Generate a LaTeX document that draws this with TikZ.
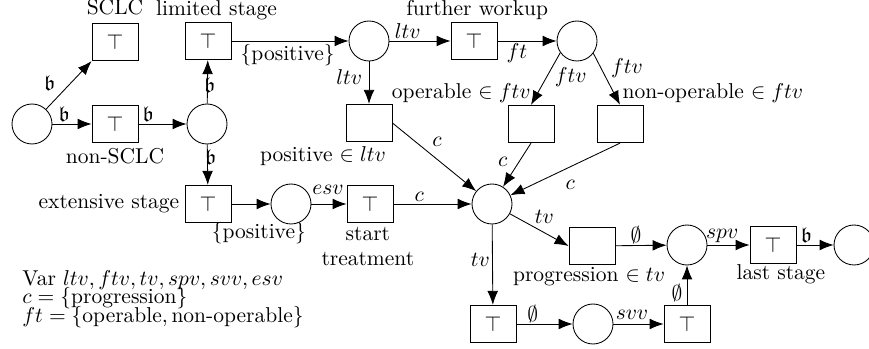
\documentclass[tikz,border=0pt]{standalone}
\usepackage{amsmath,amssymb}
\usetikzlibrary{arrows.meta}
\begin{document}
\begin{tikzpicture}[x=0.4651pt,y=-0.4651pt,
  place/.style={draw,circle,minimum size=18.6pt,inner sep=0pt},
  trans/.style={draw,rectangle,minimum width=21.4pt,minimum height=17.4pt,inner sep=0pt},
  arc/.style={-{Latex[length=6.5pt,width=5pt]}},
  lbl/.style={inner sep=1pt}
]
\useasboundingbox (0,0) rectangle (869,349);

% places and transitions
\node[place] (p0) at (32,124) {};
\node[trans] (sclc) at (115,42) {$\top$};
\node[trans] (nsclc) at (115,124) {$\top$};
\node[place] (p1) at (207,124) {};
\node[trans] (lim) at (208,41) {$\top$};
\node[trans] (ext) at (208,204) {$\top$};
\node[place] (p2) at (369,41) {};
\node[trans] (fw) at (474,41) {$\top$};
\node[place] (p3) at (577,41) {};
\node[trans] (pos) at (369,123) {};
\node[trans] (op) at (531,124) {};
\node[trans] (nop) at (620,124) {};
\node[place] (p4) at (291,204) {};
\node[trans] (st) at (370,204) {$\top$};
\node[place] (p5) at (492,204) {};
\node[trans] (prog) at (592,246) {};
\node[place] (p6) at (687,245) {};
\node[trans] (last) at (773,245) {$\top$};
\node[place] (p7) at (854,245) {};
\node[trans] (bl) at (493,324) {$\top$};
\node[place] (p8) at (593,324) {};
\node[trans] (br) at (687,324) {$\top$};

% node names
\node[anchor=south] (sclcL) at (sclc.north) {SCLC};
\node[anchor=south,inner sep=0.5pt,xshift=4pt] (limL) at (lim.north) {limited stage};
\node[anchor=south,inner sep=0.6pt,xshift=1.5pt] (fwL) at (fw.north) {further workup};
\node[anchor=north,inner sep=2pt] (nsclcL) at (nsclc.south) {non-SCLC};
\node[anchor=east,inner sep=2.3pt] (extL) at (ext.west) {extensive stage};
\node[anchor=north,inner sep=2pt,xshift=-21.4pt] (posL) at (pos.south) {positive $\in ltv$};
\node[anchor=south east,inner sep=1pt,xshift=1pt] (opL) at (op.north) {operable $\in ftv$};
\node[anchor=south west,inner sep=1pt] (nopL) at (nop.north) {non-operable $\in ftv$};
\node[anchor=north,inner sep=1.5pt,align=center,xshift=-1pt] (stL) at (st.south) {start\\treatment};
\node[anchor=north,inner sep=1pt,xshift=-1.4pt] (progL) at (prog.south) {progression $\in tv$};
\node[anchor=north,inner sep=0pt,xshift=3.7pt] (lastL) at (last.south) {last stage};

% arcs
\draw[arc] (p0) -- (sclc.south west) node[lbl,pos=0.54,left=6pt] {$\mathfrak{b}$};
\draw[arc] (p0) -- (nsclc) node[lbl,pos=0.3,above] {$\mathfrak{b}$};
\draw[arc] (nsclc) -- (p1) node[lbl,pos=0.2,above] {$\mathfrak{b}$};
\draw[arc] (p1) -- (lim) node[lbl,pos=0.42,xshift=1pt] {$\mathfrak{b}$};
\draw[arc] (p1) -- (ext) node[lbl,pos=0.31,xshift=1.5pt] {$\mathfrak{b}$};
\draw[arc] (lim) -- (p2) node[pos=0.48,below,inner sep=1.5pt] {\{positive\}};
\draw[arc] (p2) -- (fw) node[lbl,pos=0.3,above] {$ltv$};
\draw[arc] (fw) -- (p3) node[lbl,pos=0.33,below] {$ft$};
\draw[arc] (p2) -- (pos) node[pos=0.37,left,inner sep=3pt] {$ltv$};
\draw[arc] (p3.215) -- (op.north) node[pos=0.46,right,inner sep=3.5pt] {$ftv$};
\draw[arc] (p3.-37) -- (nop.north) node[pos=0.29,right,inner sep=4.5pt] {$ftv$};
\draw[arc] (pos.east) -- (p5) node[pos=0.42,above right,inner sep=2pt] {$c$};
\draw[arc] (op.south) -- (p5) node[pos=0.44,left,inner sep=5pt] {$c$};
\draw[arc] (nop.south) -- (p5) node[lbl,pos=0.455,below=5pt] {$c$};
\draw[arc] (ext) -- (p4) node[lbl,pos=0.7,below=7.5pt] {\{positive\}};
\draw[arc] (p4) -- (st) node[lbl,pos=0.47,above=3pt] {$esv$};
\draw[arc] (st) -- (p5) node[lbl,pos=0.33,above] {$c$};
\draw[arc] (p5) -- (prog.west) node[lbl,pos=0.38,above right] {$tv$};
\draw[arc] (p5) -- (bl) node[lbl,pos=0.44,left] {$tv$};
\draw[arc] (prog) -- (p6) node[pos=0.4,above,inner sep=0.5pt] {$\emptyset$};
\draw[arc] (p6) -- (last) node[pos=0.35,above,inner sep=0.7pt] {$spv$};
\draw[arc] (last) -- (p7) node[lbl,pos=0.27,above] {$\mathfrak{b}$};
\draw[arc] (bl) -- (p8) node[pos=0.29,above,inner sep=0.5pt] {$\emptyset$};
\draw[arc] (p8) -- (br) node[pos=0.37,above,inner sep=2pt] {$svv$};
\draw[arc] (br) -- (p6) node[pos=0.3,left,inner sep=2pt] {$\emptyset$};

% declarations
\node[anchor=north west,inner sep=0pt,align=left] (decl) at (22,270)
  {Var $ltv, ftv, tv, spv, svv, esv$\\[-3.6pt]
   $c = \{\text{progression}\}$\\[-3.2pt]
   $ft = \{\text{operable}, \text{non-operable}\}$};
\end{tikzpicture}
\end{document}
